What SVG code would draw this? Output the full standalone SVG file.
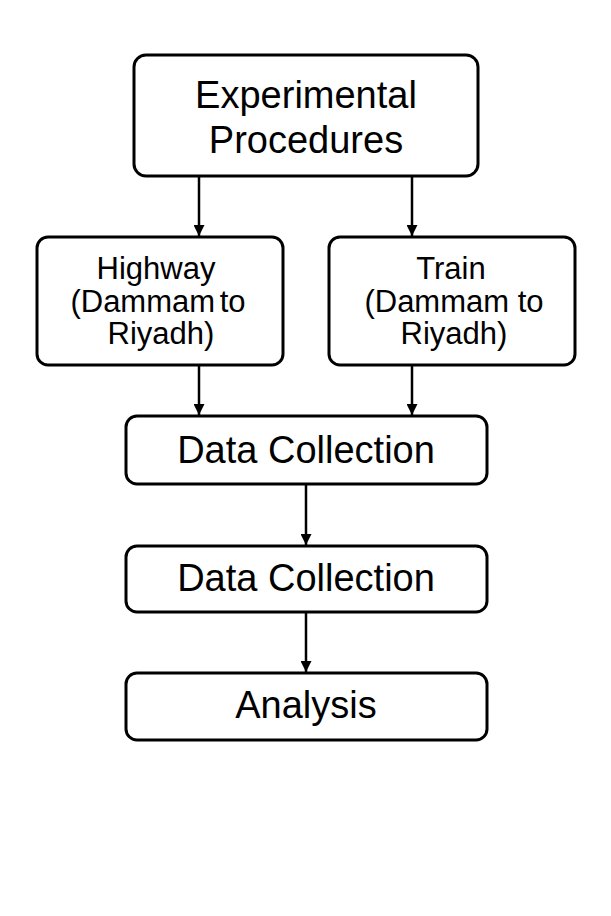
<svg xmlns="http://www.w3.org/2000/svg" width="611" height="916" viewBox="0 0 611 916">
<defs>
<marker id="ah" viewBox="0 0 10 10" refX="10" refY="5" markerWidth="11" markerHeight="11" markerUnits="userSpaceOnUse" orient="auto">
<path d="M0,0 L10,5 L0,10 z" fill="#000"/>
</marker>
<style>
.box{fill:#fff;stroke:#000;stroke-width:3}
.big{font-family:"Liberation Sans",Arial,sans-serif;font-size:38px;fill:#000;text-anchor:middle}
.small{font-family:"Liberation Sans",Arial,sans-serif;font-size:31px;fill:#000;text-anchor:middle}
.conn line{stroke:#000;stroke-width:2.5;fill:none;marker-end:url(#ah)}
</style>
</defs>
<rect width="611" height="916" fill="#fff"/>
<g id="experimental">
<rect class="box" x="134" y="55" width="344" height="121" rx="12"/>
<text class="big" x="306" y="108">Experimental</text>
<text class="big" x="306" y="153">Procedures</text>
</g>
<g id="highway">
<rect class="box" x="37" y="237" width="246" height="128" rx="11"/>
<text class="small" x="156" y="279">Highway</text>
<text class="small" x="158" y="312" word-spacing="-4">(Dammam to</text>
<text class="small" x="161" y="344">Riyadh)</text>
</g>
<g id="train">
<rect class="box" x="329" y="237" width="246" height="128" rx="11"/>
<text class="small" x="451" y="279">Train</text>
<text class="small" x="454" y="312">(Dammam to</text>
<text class="small" x="454" y="344">Riyadh)</text>
</g>
<g id="datacollection1">
<rect class="box" x="126" y="416" width="361" height="68" rx="11"/>
<text class="big" x="306" y="463">Data Collection</text>
</g>
<g id="datacollection2">
<rect class="box" x="126" y="546" width="361" height="66" rx="11"/>
<text class="big" x="306" y="591">Data Collection</text>
</g>
<g id="analysis">
<rect class="box" x="126" y="673" width="361" height="67" rx="11"/>
<text class="big" x="306" y="718">Analysis</text>
</g>
<g class="conn" id="connectors">
<line x1="199" y1="177" x2="199" y2="236"/>
<line x1="412" y1="177" x2="412" y2="236"/>
<line x1="199" y1="366" x2="199" y2="415"/>
<line x1="412" y1="366" x2="412" y2="415"/>
<line x1="306" y1="485" x2="306" y2="545"/>
<line x1="306" y1="613" x2="306" y2="672"/>
</g>
</svg>
